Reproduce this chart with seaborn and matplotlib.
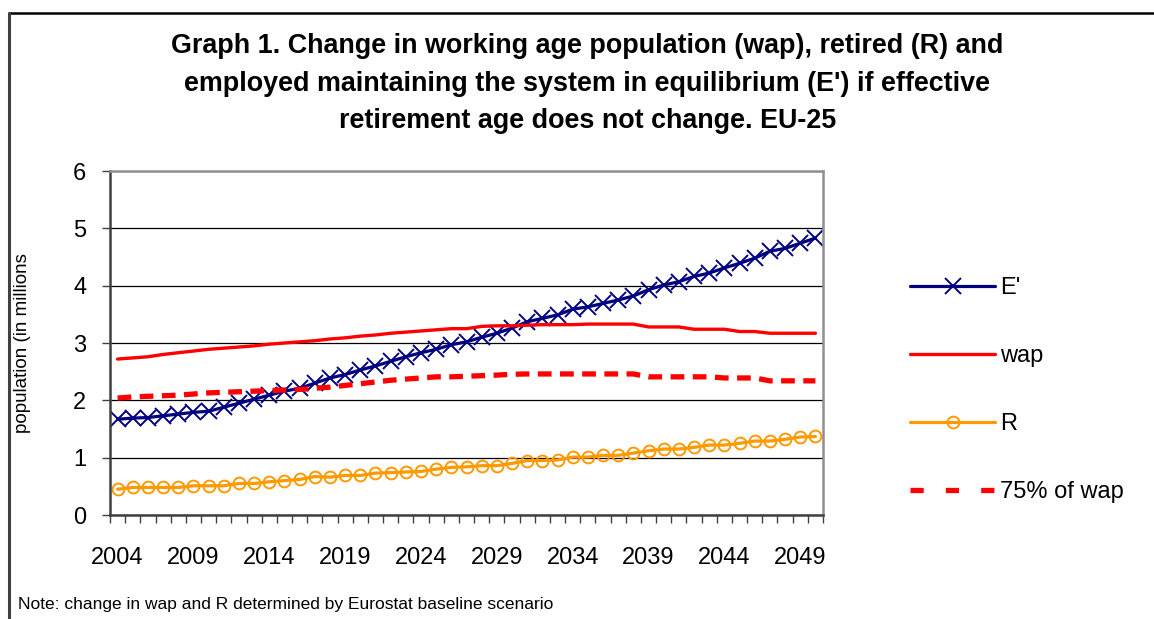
import numpy as np
import pandas as pd
import seaborn as sns
import matplotlib.pyplot as plt
from matplotlib.lines import Line2D

# data (millions)
years = list(range(2004, 2051))
e_prime = [1.67, 1.69, 1.70, 1.73, 1.76, 1.79, 1.81, 1.88, 1.95, 2.02,
           2.09, 2.16, 2.21, 2.30, 2.39, 2.45, 2.53, 2.60, 2.68, 2.76,
           2.83, 2.89, 2.97, 3.02, 3.10, 3.17, 3.26, 3.37, 3.43, 3.49,
           3.59, 3.63, 3.69, 3.75, 3.82, 3.93, 4.01, 4.07, 4.16, 4.22,
           4.31, 4.39, 4.48, 4.60, 4.65, 4.74, 4.83]
wap = [2.72, 2.74, 2.76, 2.80, 2.83, 2.86, 2.89, 2.91, 2.93, 2.95,
       2.98, 3.00, 3.02, 3.04, 3.07, 3.09, 3.12, 3.14, 3.17, 3.19,
       3.21, 3.23, 3.25, 3.25, 3.29, 3.30, 3.30, 3.31, 3.32, 3.32,
       3.32, 3.33, 3.33, 3.33, 3.33, 3.28, 3.28, 3.28, 3.24, 3.24,
       3.24, 3.20, 3.20, 3.17, 3.17, 3.17, 3.17]
retired = [0.45, 0.48, 0.48, 0.48, 0.48, 0.51, 0.51, 0.51, 0.55, 0.55,
           0.58, 0.60, 0.62, 0.67, 0.66, 0.69, 0.69, 0.73, 0.74, 0.75,
           0.76, 0.80, 0.83, 0.84, 0.86, 0.86, 0.90, 0.95, 0.95, 0.96,
           1.01, 1.01, 1.04, 1.04, 1.08, 1.12, 1.15, 1.15, 1.18, 1.22,
           1.22, 1.25, 1.29, 1.29, 1.32, 1.36, 1.37]
wap75 = [2.04, 2.06, 2.07, 2.08, 2.09, 2.11, 2.13, 2.14, 2.15, 2.16,
         2.17, 2.18, 2.19, 2.21, 2.23, 2.26, 2.29, 2.32, 2.35, 2.37,
         2.39, 2.41, 2.41, 2.42, 2.43, 2.44, 2.455, 2.46, 2.46, 2.46,
         2.46, 2.46, 2.46, 2.46, 2.46, 2.41, 2.41, 2.41, 2.41, 2.41,
         2.39, 2.39, 2.39, 2.34, 2.34, 2.34, 2.34]
year_labels = list(range(2004, 2050, 5))

df = pd.DataFrame({"year": years, "E'": e_prime, "wap": wap,
                   "R": retired, "75% of wap": wap75})

sns.set_theme(style="white")
plt.rcParams['font.family'] = ['Liberation Sans', 'DejaVu Sans']
plt.rcParams['text.color'] = 'black'
plt.rcParams['axes.labelcolor'] = 'black'
plt.rcParams['xtick.color'] = 'black'
plt.rcParams['ytick.color'] = 'black'

fig = plt.figure(figsize=(11.54, 6.19), dpi=100)
ax = fig.add_axes([110 / 1154, 1 - 515 / 619, 713 / 1154, 344 / 619])

sns.lineplot(data=df, x="year", y="E'", ax=ax, color="#000080", lw=2.3,
             marker="x", ms=11, mew=1.4, mec="#000080", label="E'")
sns.lineplot(data=df, x="year", y="wap", ax=ax, color="#FF0000", lw=2.4,
             label="wap")
sns.lineplot(data=df, x="year", y="R", ax=ax, color="#FF9900", lw=2.3,
             marker="o", ms=8.5, mfc="none", mec="#FF9900", mew=1.4, label="R")
sns.lineplot(data=df, x="year", y="75% of wap", ax=ax, color="#FF0000",
             lw=3.8, label="75% of wap")
ax.get_lines()[3].set_dashes((2.6, 1.6))

ax.set_xlim(2003.5, 2050.5)
ax.set_ylim(0, 6)
ax.set_xticks(year_labels)
ax.set_xticks(np.arange(2003.5, 2051, 1), minor=True)
ax.set_yticks(range(0, 7))
ax.tick_params(axis='x', which='major', length=0, pad=23, labelsize=17)
ax.tick_params(axis='x', which='minor', length=6, width=1, color="#404040",
               direction='out', bottom=True)
ax.tick_params(axis='y', length=6, width=1, color="#404040", direction='out',
               left=True, pad=11, labelsize=17, labelcolor='black')
ax.yaxis.grid(True, color="black", lw=0.9)
ax.set_axisbelow(True)
ax.set_xlabel("")
ax.set_ylabel("population (in millions", fontsize=13.5, labelpad=30)
for side in ["left", "bottom"]:
    ax.spines[side].set_color("#404040")
    ax.spines[side].set_linewidth(1.8)
for side in ["top", "right"]:
    ax.spines[side].set_color("#909090")
    ax.spines[side].set_linewidth(1.8)

handles, labels = ax.get_legend_handles_labels()
leg = ax.legend(handles, labels, loc='upper left',
                bbox_to_anchor=(910 / 1154, 1 - 277 / 619),
                bbox_transform=fig.transFigure, frameon=False, fontsize=17,
                handlelength=3.6, handletextpad=0.2, labelspacing=1.95,
                borderpad=0, borderaxespad=0)
leg.get_lines()[3].set_dashes((2.5, 4.2))

fig.text(0.509, 1 - 33 / 619,
         "Graph 1. Change in working age population (wap), retired (R) and\n"
         "employed maintaining the system in equilibrium (E') if effective\n"
         "retirement age does not change. EU-25",
         ha='center', va='top', fontsize=19.4, fontweight='bold', linespacing=1.58)
fig.text(18 / 1154, 1 - 604 / 619,
         "Note: change in wap and R determined by Eurostat baseline scenario",
         ha='left', va='center', fontsize=12.5)

# outer chart frame
fig.add_artist(Line2D([9 / 1154, 1], [1 - 13 / 619, 1 - 13 / 619],
                      color="black", lw=1.8))
fig.add_artist(Line2D([9 / 1154, 9 / 1154], [0, 1 - 13 / 619],
                      color="#404040", lw=2.2))

fig.savefig("out.png", dpi=100)
